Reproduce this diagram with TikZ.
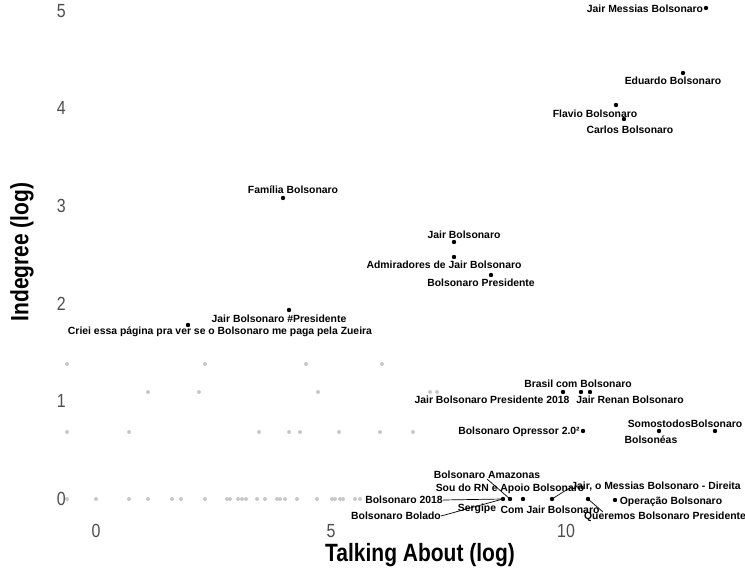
\documentclass[tikz,border=0pt]{standalone}
\usepackage{fontspec}
\setmainfont{Liberation Sans}
\newfontfamily\condfont[FakeStretch=0.84]{Liberation Sans}
\definecolor{tickgray}{RGB}{77,77,77}
\definecolor{dotgray}{RGB}{200,200,200}
\begin{document}
\begin{tikzpicture}[x=1pt,y=-1pt,
  lab/.style={font=\bfseries\fontsize{10.4}{12}\selectfont,inner sep=0pt},
  tck/.style={font=\condfont\fontsize{19}{20}\selectfont,text=tickgray,inner sep=0pt},
  ttl/.style={font=\condfont\bfseries\fontsize{25}{27}\selectfont,inner sep=0pt},
  seg/.style={line width=0.7pt}]
\useasboundingbox (0,0) rectangle (745,569);
% axes text
\foreach \v/\yy in {0/499,1/401,2/304,3/206,4/108,5/11}
  \node[tck,anchor=east] (ty\v) at (66,\yy) {\v};
\foreach \v/\xx in {0/96,5/331,10/566}
  \node[tck] (tx\v) at (\xx,531) {\v};
\node[ttl] (xtitle) at (420,555) {Talking About (log)};
\node[ttl,rotate=90] (ytitle) at (22,252) {Indegree (log)};
% unlabelled pages
\foreach \xx in {67,96,129,148,172,181,205,227,230,238,242,246,257,265,277,280,285,297,317,332,335,340,343,355,360}
  \fill[dotgray] (\xx,499) circle (2);
\foreach \xx in {67,129,259,289,300,339,380,413}
  \fill[dotgray] (\xx,432) circle (2);
\foreach \xx in {148,199,318,430,437}
  \fill[dotgray] (\xx,392) circle (2);
\foreach \xx in {67,205,306,382}
  \fill[dotgray] (\xx,364) circle (2);
% labelled pages
\coordinate (JMB) at (706,8);
\coordinate (EDU) at (683,73);
\coordinate (FLA) at (616,105);
\coordinate (CAR) at (624,119);
\coordinate (FAM) at (283,198);
\coordinate (JB) at (454,242);
\coordinate (ADM) at (454,257);
\coordinate (BP) at (491,275);
\coordinate (JBP) at (289,310);
\coordinate (CRI) at (188,325);
\coordinate (BCB) at (563,392);
\coordinate (JBP18) at (581,392);
\coordinate (JRB) at (590,392);
\coordinate (OPR) at (583,431);
\coordinate (BNS) at (659,431);
\coordinate (SOM) at (715,431);
\coordinate (B18) at (503,499);
\coordinate (AMZ) at (510,499);
\coordinate (RN) at (523,499);
\coordinate (JOM) at (552,499);
\coordinate (QBP) at (588,499);
\coordinate (OPE) at (615,500);
\foreach \p in {JMB,EDU,FLA,CAR,FAM,JB,ADM,BP,JBP,CRI,BCB,JBP18,JRB,OPR,BNS,SOM,B18,AMZ,RN,JOM,QBP,OPE}
  \fill (\p) circle (2.2);
\node[lab] (lJMB) at (645,9) {Jair Messias Bolsonaro};
\node[lab] (lEDU) at (673,81) {Eduardo Bolsonaro};
\node[lab] (lFLA) at (595,114) {Flavio Bolsonaro};
\node[lab] (lCAR) at (630,130) {Carlos Bolsonaro};
\node[lab] (lFAM) at (293,190) {Família Bolsonaro};
\node[lab] (lJB) at (464,235) {Jair Bolsonaro};
\node[lab] (lADM) at (444,265) {Admiradores de Jair Bolsonaro};
\node[lab] (lBP) at (481,283) {Bolsonaro Presidente};
\node[lab] (lJBP) at (279,319) {Jair Bolsonaro \#Presidente};
\node[lab] (lCRI) at (220,332) {Criei essa página pra ver se o Bolsonaro me paga pela Zueira};
\node[lab] (lBCB) at (578,384) {Brasil com Bolsonaro};
\node[lab] (lJBP18) at (492,400) {Jair Bolsonaro Presidente 2018};
\node[lab] (lJRB) at (630,400) {Jair Renan Bolsonaro};
\node[lab] (lOPR) at (519,432) {Bolsonaro Opressor 2.0²};
\node[lab] (lSOM) at (685,424) {SomostodosBolsonaro};
\node[lab] (lBNS) at (651,440) {Bolsonéas};
\node[lab] (lAMZ) at (487,475) {Bolsonaro Amazonas};
\node[lab] (lRN) at (510,489) {Sou do RN e Apoio Bolsonaro};
\node[lab] (lB18) at (404,500) {Bolsonaro 2018};
\node[lab] (lJOM) at (656,487) {Jair, o Messias Bolsonaro - Direita};
\node[lab] (lOPE) at (671,502) {Operação Bolsonaro};
\node[lab] (lBOL) at (396,516) {Bolsonaro Bolado};
\node[lab] (lSER) at (477,509) {Sergipe};
\node[lab] (lCOM) at (550,510) {Com Jair Bolsonaro};
\node[lab] (lQBP) at (665,517) {Queremos Bolsonaro Presidente};
% repel segments
\coordinate (qEnd) at (603,512);
\draw[seg] (lB18.east) -- (B18);
\draw[seg] (lBOL.east) -- (B18);
\draw[seg] (lAMZ.south) -- (AMZ);
\draw[seg] (JOM) -- (lJOM.west);
\draw[seg] (QBP) -- (qEnd);
\end{tikzpicture}
\end{document}
